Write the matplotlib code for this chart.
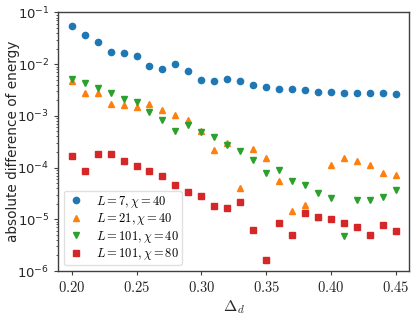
import matplotlib
matplotlib.use("Agg")
import matplotlib.pyplot as plt
from matplotlib.ticker import FuncFormatter

plt.rcParams['mathtext.fontset'] = 'cm'
plt.rcParams['font.family'] = ['DejaVu Sans']

delta_d = [0.20, 0.21, 0.22, 0.23, 0.24, 0.25, 0.26, 0.27, 0.28, 0.29, 0.30, 0.31, 0.32,
           0.33, 0.34, 0.35, 0.36, 0.37, 0.38, 0.39, 0.40, 0.41, 0.42, 0.43, 0.44, 0.45]

L7_chi40 = [0.0544, 0.0364, 0.0270, 0.0173, 0.0168, 0.0145, 0.00903, 0.00790, 0.0100, 0.00732,
            0.00497, 0.00469, 0.00513, 0.00469, 0.00392, 0.00370, 0.00333, 0.00328, 0.00310,
            0.00296, 0.00291, 0.00283, 0.00278, 0.00275, 0.00275, 0.00271]

L21_chi40 = [4.75e-3, 2.78e-3, 2.78e-3, 1.735e-3, 1.66e-3, 1.49e-3, 1.735e-3, 1.29e-3, 1.03e-3,
             8.24e-4, 5.12e-4, 2.17e-4, 3.0e-4, 4.11e-5, 2.26e-4, 1.54e-4, 5.51e-5, 1.45e-5,
             1.87e-5, 1.13e-5, 1.125e-4, 1.54e-4, 1.34e-4, 1.125e-4, 7.87e-5, 7.33e-5]

L101_chi40 = [5.06e-3, 4.35e-3, 3.39e-3, 2.78e-3, 2.10e-3, 1.86e-3, 1.19e-3, 8.24e-4, 5.05e-4,
              6.6e-4, 4.9e-4, 3.92e-4, 2.71e-4, 2.07e-4, 1.43e-4, 8.0e-5, 9.0e-5, 5.51e-5,
              4.61e-5, 3.23e-5, 2.55e-5, 4.75e-6, 2.33e-5, 2.33e-5, 2.70e-5, 3.64e-5]

L101_chi80 = [1.66e-4, 8.61e-5, 1.81e-4, 1.87e-4, 1.37e-4, 1.08e-4, 8.61e-5, 6.8e-5, 4.70e-5,
              3.38e-5, 2.88e-5, 1.81e-5, 1.66e-5, 2.13e-5, 6.32e-6, 1.61e-6, 8.49e-6, 4.97e-6,
              1.35e-5, 1.13e-5, 1.0e-5, 8.49e-6, 7.0e-6, 4.91e-6, 7.76e-6, 5.86e-6]

labels = [r'$L=7, \chi=40$', r'$L=21, \chi=40$', r'$L=101, \chi=40$', r'$L=101, \chi=80$']

fig = plt.figure(figsize=(4.15, 3.17), dpi=100)
ax = fig.add_axes([0.1405, 0.1451, 0.8458, 0.8155])

ms = 4.5
ax.plot(delta_d, L7_chi40, 'o', color='#1f77b4', ms=ms, label=labels[0])
ax.plot(delta_d, L21_chi40, '^', color='#ff7f0e', ms=ms, label=labels[1])
ax.plot(delta_d, L101_chi40, 'v', color='#2ca02c', ms=ms, label=labels[2])
ax.plot(delta_d, L101_chi80, 's', color='#d62728', ms=ms, label=labels[3])

ax.set_yscale('log')
ax.set_ylim(1e-6, 1e-1)
ax.set_xlim(0.1897, 0.4603)
ax.set_xticks([0.20, 0.25, 0.30, 0.35, 0.40, 0.45])
ax.xaxis.set_major_formatter(FuncFormatter(lambda v, p: r'$%.2f$' % v))

spine_col = '0.25'
for s in ax.spines.values():
    s.set_color(spine_col)
    s.set_linewidth(1.0)
ax.tick_params(axis='both', which='major', colors=spine_col, labelcolor='0.15',
               length=3, pad=3.5)
ax.tick_params(axis='x', which='major', labelsize=10.5)
ax.tick_params(axis='y', which='major', labelsize=9.5)
ax.tick_params(axis='y', which='minor', colors=spine_col, length=1.8)

ax.set_xlabel(r'$\Delta_d$', fontsize=11.5, color='0.15')
ax.xaxis.set_label_coords(0.5, -0.105)
ax.set_ylabel('absolute difference of energy', fontsize=9.8, color='0.15')
ax.yaxis.set_label_coords(-0.11, 0.5)

leg = ax.legend(loc='lower left', fontsize=9, handletextpad=0.8, borderpad=0.25,
                labelspacing=0.12, handlelength=1.5, borderaxespad=0.45)
leg.get_frame().set_edgecolor('0.85')

fig.savefig('out.png', dpi=100)
